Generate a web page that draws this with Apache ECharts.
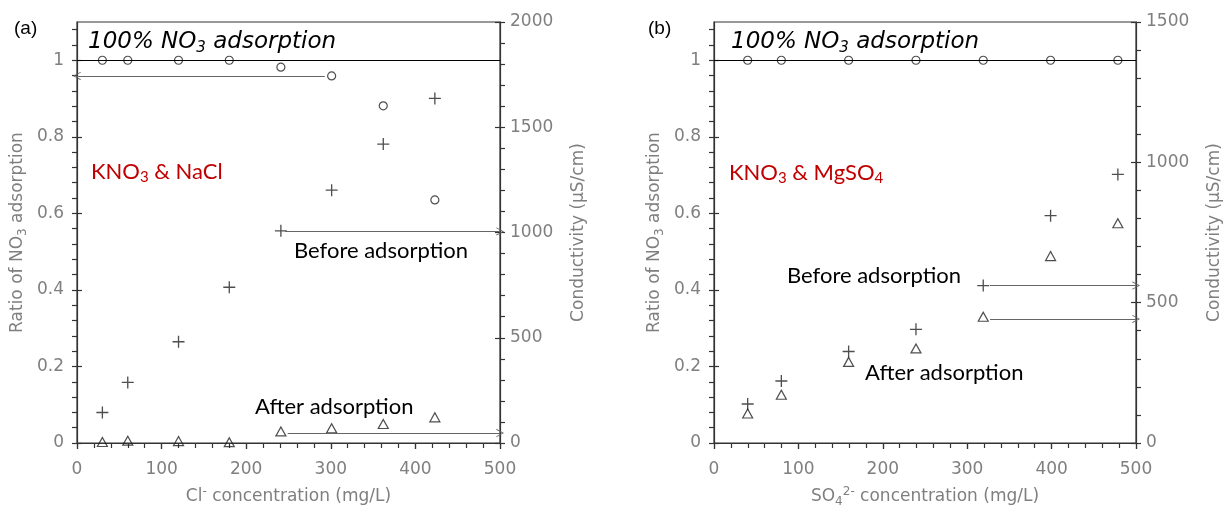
<!DOCTYPE html>
<html>
<head>
<meta charset="utf-8">
<script src="https://cdn.jsdelivr.net/npm/echarts@6/dist/echarts.min.js"></script>
<style>
  html, body { margin: 0; padding: 0; background: #fff; }
  #chart { width: 1223px; height: 506px; }
</style>
</head>
<body>
<div id="chart"></div>
<script>
// panel (a): KNO3 & NaCl
const clX = [30, 60, 120, 180, 241, 301, 362, 423]
const clRatio = [1.0, 1.0, 1.0, 1.0, 0.982, 0.959, 0.881, 0.635]
const clBefore = [145, 288, 481, 740, 1008, 1201, 1420, 1637]
const clAfter = [5, 11, 9, 4, 55, 70, 90, 122]

// panel (b): KNO3 & MgSO4
const soX = [39.9, 79.8, 159.5, 239.3, 319, 398.8, 478.5]
const soRatio = [1, 1, 1, 1, 1, 1, 1]
const soBefore = [139, 221, 326, 405, 561, 810, 957]
const soAfter = [105, 172, 289, 337, 450, 666, 783]

// annotation arrows, [x0, y0, x1, y1] in data units
const clRatioArrow = [293, 0.959, 0, 0.959]
const clBeforeArrow = [246, 1005, 500, 1005]
const clAfterArrow = [249, 47, 500, 47]
const soBeforeArrow = [327, 561, 500, 561]
const soAfterArrow = [327, 442, 500, 442]

// tick labels
const ratioTicks = [0, 0.2, 0.4, 0.6, 0.8, 1]
const ratioAllTicks = [0, 0.04, 0.08, 0.12, 0.16, 0.2, 0.24, 0.28, 0.32, 0.36, 0.4, 0.44, 0.48, 0.52,
  0.56, 0.6, 0.64, 0.68, 0.72, 0.76, 0.8, 0.84, 0.88, 0.92, 0.96, 1, 1.04, 1.08]

const GRAY = '#7f7f7f'
const AXIS = '#333'
const RED = '#c00000'
const ARROW = 'path://M5,0L10,8L9.2,8.7L5,1.9L0.8,8.7L0,8Z'
const PLUS = 'path://M0,4.45H10V5.55H0Z M4.45,0H5.55V10H4.45Z'

const nameRich = {
    n: {fontFamily: 'DejaVu Sans', fontSize: 17, lineHeight: 22, color: GRAY},
    sub: {fontFamily: 'DejaVu Sans', fontSize: 12, lineHeight: 14, verticalAlign: 'bottom', color: GRAY},
    sup: {fontFamily: 'DejaVu Sans', fontSize: 12, lineHeight: 14, verticalAlign: 'top', color: GRAY}
}
const labelStyle = {color: GRAY, fontFamily: 'DejaVu Sans', fontSize: 17, formatter: v => String(v)}

function xAxisPair(grid, name) {
    return [{
        type: 'value', gridIndex: grid, min: 0, max: 500, interval: 100,
        axisLine: {show: true, lineStyle: {color: AXIS, width: 1.2}},
        axisTick: {show: true, length: 6, lineStyle: {color: AXIS, width: 1.2}},
        minorTick: {show: true, splitNumber: 5, length: 5, lineStyle: {color: AXIS, width: 1.2}},
        axisLabel: Object.assign({margin: 18}, labelStyle),
        splitLine: {show: false},
        name: name, nameLocation: 'middle', nameGap: 43,
        nameTextStyle: {rich: nameRich}
    }, {
        type: 'value', gridIndex: grid, min: 0, max: 500, interval: 100,
        axisLine: {show: false},
        axisTick: {show: true, inside: true, length: 6, lineStyle: {color: AXIS, width: 1.2}},
        axisLabel: {show: false}, splitLine: {show: false}
    }]
}

function ratioAxisPair(grid) {
    return [{
        type: 'value', gridIndex: grid, position: 'left', min: 0, max: 1.1, interval: 0.2,
        axisLine: {show: true, lineStyle: {color: AXIS, width: 1.2}},
        axisTick: {show: true, length: 5, customValues: ratioAllTicks, lineStyle: {color: AXIS, width: 1.2}},
        axisLabel: Object.assign({margin: 13, customValues: ratioTicks}, labelStyle),
        splitLine: {show: false},
        name: '{n|Ratio of NO}{sub|3}{n| adsorption}', nameLocation: 'middle', nameGap: 48,
        nameTextStyle: {rich: nameRich}
    }, {
        type: 'value', gridIndex: grid, position: 'left', min: 0, max: 1.1, interval: 0.2,
        axisLine: {show: false},
        axisTick: {show: true, inside: true, length: 5, customValues: ratioTicks, lineStyle: {color: AXIS, width: 1.2}},
        axisLabel: {show: false}, splitLine: {show: false}
    }]
}

function condAxisPair(grid, max) {
    return [{
        type: 'value', gridIndex: grid, position: 'right', min: 0, max: max, interval: 500,
        axisLine: {show: true, lineStyle: {color: AXIS, width: 1.2}},
        axisTick: {show: true, length: 5, lineStyle: {color: AXIS, width: 1.2}},
        minorTick: {show: true, splitNumber: 5, length: 5, lineStyle: {color: AXIS, width: 1.2}},
        axisLabel: Object.assign({margin: 10}, labelStyle),
        splitLine: {show: false},
        name: '{n|Conductivity (µS/cm)}', nameLocation: 'middle', nameGap: 68,
        nameTextStyle: {rich: nameRich}
    }, {
        type: 'value', gridIndex: grid, position: 'right', min: 0, max: max, interval: 500,
        axisLine: {show: false},
        axisTick: {show: true, inside: true, length: 5, lineStyle: {color: AXIS, width: 1.2}},
        axisLabel: {show: false}, splitLine: {show: false}
    }]
}

function zip(xs, ys) {
    return xs.map((x, i) => [x, ys[i]])
}

function arrowLine(a) {
    return [
        {coord: [a[0], a[1]], symbol: 'none'},
        {coord: [a[2], a[3]], symbol: ARROW, symbolSize: [8, 8]}
    ]
}

function arrowMark(arrows, withUnity) {
    const data = arrows.map(arrowLine)
    if (withUnity) data.unshift({yAxis: 1, lineStyle: {color: '#000', width: 1.2, type: 'solid'}})
    return {
        silent: true, animation: false, symbol: ['none', 'none'],
        label: {show: false},
        lineStyle: {color: '#666', width: 1.1, type: 'solid'},
        data: data
    }
}

const hollow = {color: 'rgba(0,0,0,0)', borderColor: '#222', borderWidth: 1.2}

function panelSeries(xi, yRatio, yCond, xs, ratio, before, after, ratioArrows, beforeArrows, afterArrows) {
    return [{
        type: 'scatter', xAxisIndex: xi, yAxisIndex: yRatio, data: zip(xs, ratio),
        symbol: 'circle', symbolSize: 8, itemStyle: hollow,
        markLine: arrowMark(ratioArrows, true)
    }, {
        type: 'scatter', xAxisIndex: xi, yAxisIndex: yCond, data: zip(xs, before),
        symbol: PLUS, symbolSize: 12, itemStyle: {color: '#222'},
        markLine: arrowMark(beforeArrows, false)
    }, {
        type: 'scatter', xAxisIndex: xi, yAxisIndex: yCond, data: zip(xs, after),
        symbol: 'triangle', symbolSize: [10, 9], itemStyle: hollow,
        markLine: arrowMark(afterArrows, false)
    }]
}

// graphic texts are zrender styles: rich tokens take fill, not color
const blackRich = {
    i: {fontFamily: 'DejaVu Sans', fontStyle: 'italic', fontSize: 23, lineHeight: 28, fill: '#000'},
    is: {fontFamily: 'DejaVu Sans', fontStyle: 'italic', fontSize: 15, lineHeight: 20, verticalAlign: 'bottom', fill: '#000'},
    c: {fontFamily: 'Lato', fontSize: 22, lineHeight: 26, fill: '#000'},
    r: {fontFamily: 'Lato', fontSize: 22, lineHeight: 26, fill: RED},
    rs: {fontFamily: 'Lato', fontSize: 15, lineHeight: 19, verticalAlign: 'bottom', fill: RED},
    p: {fontFamily: 'Liberation Sans', fontSize: 19, lineHeight: 22, fill: '#000'}
}

function label(x, y, text) {
    return {
        type: 'text', x: x, y: y, z: 10, silent: true,
        style: {text: text, rich: blackRich, align: 'left', verticalAlign: 'middle'}
    }
}

const chart = echarts.init(document.getElementById('chart'), null, {renderer: 'canvas'})
chart.setOption({
    animation: false,
    backgroundColor: '#fff',
    grid: [
        {left: 77, top: 22, width: 423, height: 421, show: true, borderColor: AXIS, borderWidth: 1.2,
            containLabel: false, outerBoundsMode: 'none'},
        {left: 714, top: 22, width: 422, height: 421, show: true, borderColor: AXIS, borderWidth: 1.2,
            containLabel: false, outerBoundsMode: 'none'}
    ],
    xAxis: [].concat(
        xAxisPair(0, '{n|Cl}{sup|-}{n| concentration (mg/L)}'),
        xAxisPair(1, '{n|SO}{sub|4}{sup|2-}{n| concentration (mg/L)}')
    ),
    yAxis: [].concat(
        ratioAxisPair(0), condAxisPair(0, 2000),
        ratioAxisPair(1), condAxisPair(1, 1500)
    ),
    series: [].concat(
        panelSeries(0, 0, 2, clX, clRatio, clBefore, clAfter,
            [clRatioArrow], [clBeforeArrow], [clAfterArrow]),
        panelSeries(2, 4, 6, soX, soRatio, soBefore, soAfter,
            [], [soBeforeArrow], [soAfterArrow])
    ),
    graphic: [
        label(14, 29, '{p|(a)}'),
        label(648, 29, '{p|(b)}'),
        label(88, 42, '{i|100% NO}{is|3}{i| adsorption}'),
        label(731, 42, '{i|100% NO}{is|3}{i| adsorption}'),
        label(91, 172, '{r|KNO}{rs|3}{r| & NaCl}'),
        label(729, 173, '{r|KNO}{rs|3}{r| & MgSO}{rs|4}'),
        label(294, 251, '{c|Before adsorption}'),
        label(255, 407, '{c|After adsorption}'),
        label(787, 276, '{c|Before adsorption}'),
        label(865, 373, '{c|After adsorption}')
    ]
})
</script>
</body>
</html>
